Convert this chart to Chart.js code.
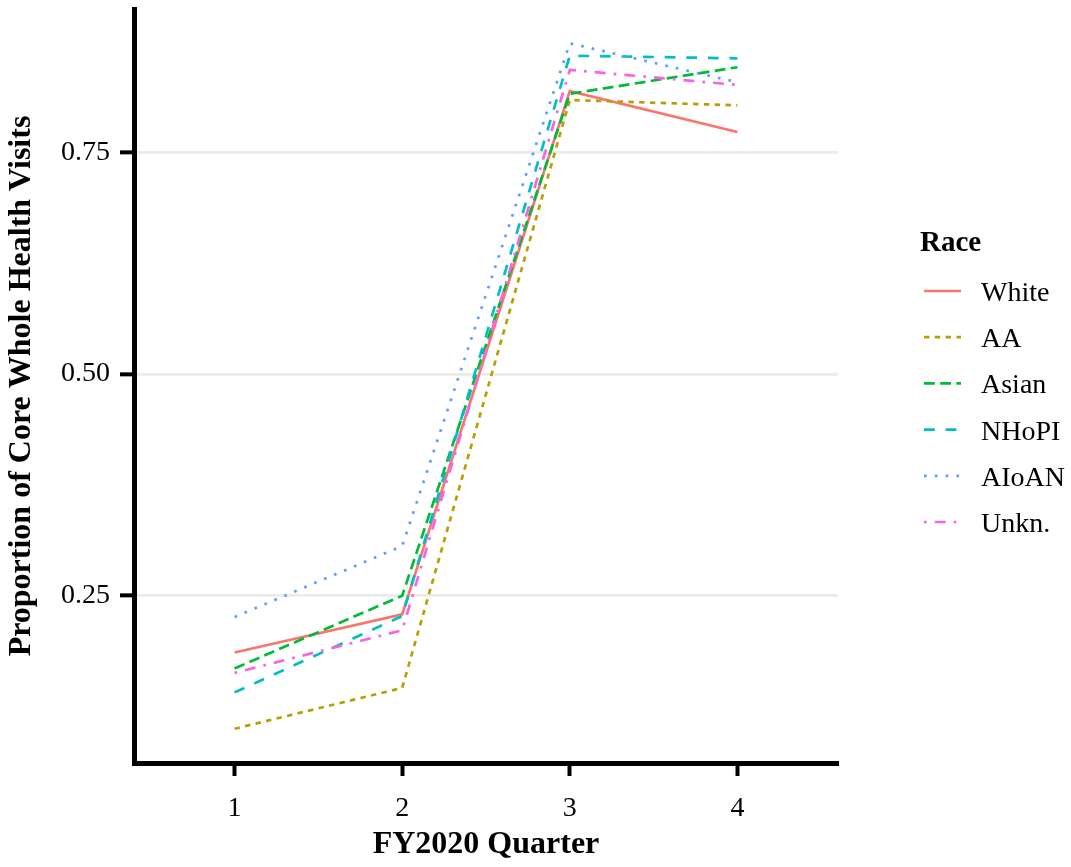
<!DOCTYPE html>
<html>
<head>
<meta charset="utf-8">
<script src="https://cdn.jsdelivr.net/npm/chart.js@4/dist/chart.umd.min.js"></script>
<style>
    body { margin: 0; background: #fff; }
    #wrap { width: 1071px; height: 867px; }
</style>
</head>
<body>
<div id="wrap"><canvas id="chart" width="1071" height="867"></canvas></div>
<script>
// FY2020 quarters and proportion of core Whole Health visits by race
const quarters = [1, 2, 3, 4];
const raceNames = ['White', 'AA', 'Asian', 'NHoPI', 'AIoAN', 'Unkn.'];
const white = [0.186, 0.229, 0.819, 0.773];
const aa = [0.100, 0.146, 0.809, 0.803];
const asian = [0.168, 0.250, 0.816, 0.846];
const nhopi = [0.141, 0.227, 0.859, 0.856];
const aioan = [0.226, 0.306, 0.873, 0.829];
const unkn = [0.163, 0.211, 0.843, 0.826];
const yTicks = [0.25, 0.50, 0.75];

const seriesValues = [white, aa, asian, nhopi, aioan, unkn];
const colors = ['#F8766D', '#B79F00', '#00BA38', '#00BFC4', '#619CFF', '#F564E3'];
// ggplot linetypes: solid, 22, 42, 44, 13, 1343 (scaled by line width)
const lw = 2.7;
const dashes = [[], [2, 2], [4, 2], [4, 4], [1, 3], [1, 3, 4, 3]].map(d => d.map(v => v * lw));

const FONT = '"Liberation Serif", "Times New Roman", serif';

// y range like ggplot: data range expanded 5%
const allVals = seriesValues.flat();
const yMin = Math.min(...allVals);
const yMax = Math.max(...allVals);
const yPad = (yMax - yMin) * 0.05;

const datasets = raceNames.map((name, i) => ({
    label: name,
    data: quarters.map((q, j) => ({ x: q, y: seriesValues[i][j] })),
    borderColor: colors[i],
    backgroundColor: colors[i],
    borderWidth: lw,
    borderDash: dashes[i],
    borderCapStyle: 'butt',
    pointRadius: 0,
    tension: 0,
    fill: false,
    order: raceNames.length - i
}));

// Legend drawn to the right of the panel, ggplot style
const raceLegend = {
    id: 'raceLegend',
    afterDraw(chart) {
        const ctx = chart.ctx;
        const x0 = chart.chartArea.right + 82;
        ctx.save();
        ctx.fillStyle = '#000';
        ctx.textAlign = 'left';
        ctx.textBaseline = 'alphabetic';
        ctx.font = 'bold 29px ' + FONT;
        ctx.fillText('Race', x0, 251);
        ctx.font = '28px ' + FONT;
        chart.data.datasets.forEach((ds, i) => {
            const y = 291 + i * 46.2;
            ctx.beginPath();
            ctx.strokeStyle = ds.borderColor;
            ctx.lineWidth = ds.borderWidth;
            ctx.lineCap = 'butt';
            ctx.setLineDash(ds.borderDash);
            ctx.moveTo(x0 + 4, y);
            ctx.lineTo(x0 + 41, y);
            ctx.stroke();
            ctx.setLineDash([]);
            ctx.fillText(ds.label, x0 + 61, y + 10);
        });
        ctx.restore();
    }
};

new Chart(document.getElementById('chart'), {
    type: 'line',
    data: { datasets: datasets },
    plugins: [raceLegend],
    options: {
        responsive: false,
        animation: false,
        layout: { padding: { top: 9, right: 233, left: 0, bottom: 0 } },
        plugins: {
            legend: { display: false },
            tooltip: { enabled: false }
        },
        scales: {
            x: {
                type: 'linear',
                min: 0.4,
                max: 4.6,
                afterBuildTicks: (scale) => { scale.ticks = quarters.map(v => ({ value: v })); },
                afterFit: (scale) => {
                    scale.height = 104;
                    scale.paddingLeft = 0;
                    scale.paddingRight = 0;
                },
                border: { display: true, color: '#000', width: 5 },
                grid: {
                    display: true,
                    drawOnChartArea: false,
                    drawTicks: true,
                    tickLength: 13,
                    tickColor: '#000',
                    tickWidth: 4
                },
                ticks: {
                    color: '#000',
                    padding: 16,
                    font: { family: FONT, size: 28 },
                    maxRotation: 0,
                    callback: (v) => String(v)
                },
                title: {
                    display: true,
                    text: 'FY2020 Quarter',
                    color: '#000',
                    padding: { top: 0, bottom: 3 },
                    font: { family: FONT, size: 32, weight: 'bold' }
                }
            },
            y: {
                type: 'linear',
                min: yMin - yPad,
                max: yMax + yPad,
                afterBuildTicks: (scale) => { scale.ticks = yTicks.map(v => ({ value: v })); },
                afterFit: (scale) => {
                    scale.width = 134;
                    scale.paddingTop = 0;
                    scale.paddingBottom = 0;
                },
                border: { display: true, color: '#000', width: 5 },
                grid: {
                    display: true,
                    drawOnChartArea: true,
                    color: '#ebebeb',
                    lineWidth: 2.7,
                    drawTicks: true,
                    tickLength: 14,
                    tickColor: '#000',
                    tickWidth: 4
                },
                ticks: {
                    color: '#000',
                    padding: 10,
                    font: { family: FONT, size: 28 },
                    callback: (v) => v.toFixed(2)
                },
                title: {
                    display: true,
                    text: 'Proportion of Core Whole Health Visits',
                    color: '#000',
                    padding: { top: 3, bottom: 0 },
                    font: { family: FONT, size: 32, weight: 'bold' }
                }
            }
        }
    }
});
</script>
</body>
</html>
